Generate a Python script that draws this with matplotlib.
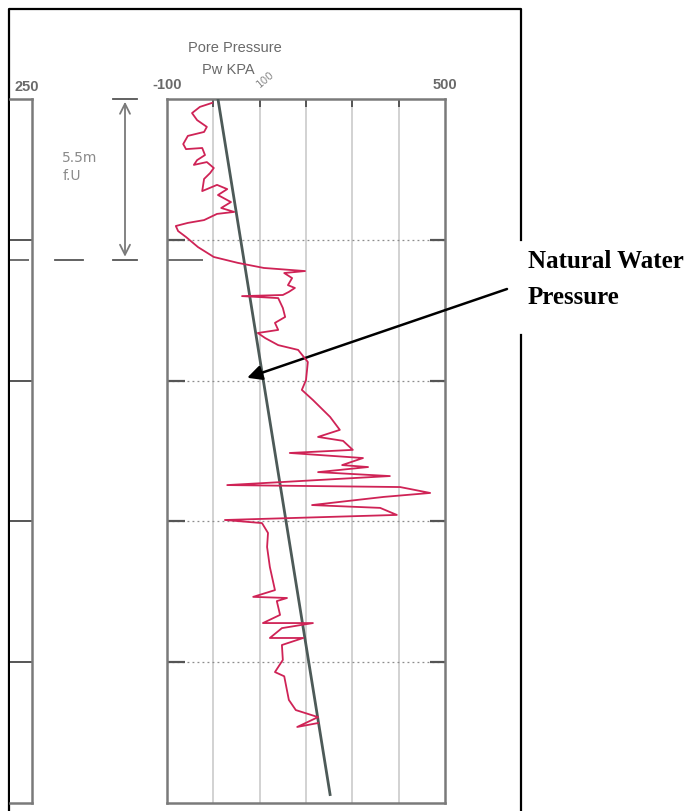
import numpy as np
import matplotlib.pyplot as plt
from matplotlib.transforms import blended_transform_factory

# pore pressure trace (kPa, depth m)
pw_kpa = [-3, -29, -46, -35, -14, -20, -55, -65, -59, -24, -18, -35, -42, -14, 1, -7,
          -20, -24, 8, 30, 10, 38, 17, 45, 8, -20, -55, -81, -76, -59, -33, 1, 53,
          109, 198, 153, 170, 161, 176, 163, 150, 62, 140, 150, 155, 133, 140, 96,
          112, 140, 183, 204, 200, 191, 215, 252, 273, 226, 280, 301, 165, 323, 278,
          334, 226, 381, 30, 403, 468, 368, 213, 360, 396, 25, 105, 118, 116, 122,
          133, 86, 159, 137, 144, 107, 215, 148, 122, 194, 148, 150, 133, 153, 163,
          178, 226, 181, 226]
depth_m = [0.14, 0.28, 0.50, 0.75, 0.99, 1.17, 1.31, 1.60, 1.78, 1.74, 1.99, 2.17, 2.34,
           2.24, 2.45, 2.63, 2.84, 3.27, 3.05, 3.20, 3.41, 3.66, 3.87, 4.01, 4.08, 4.30,
           4.40, 4.51, 4.69, 4.90, 5.26, 5.61, 5.82, 6.00, 6.11, 6.18, 6.36, 6.61, 6.71,
           6.85, 6.96, 7.00, 7.07, 7.42, 7.74, 7.95, 8.20, 8.31, 8.49, 8.74, 8.91, 9.34,
           9.98, 10.33, 10.69, 11.29, 11.75, 12.00, 12.14, 12.46, 12.57, 12.75, 13.00,
           13.07, 13.25, 13.39, 13.71, 13.78, 13.99, 14.13, 14.42, 14.52, 14.77, 14.95,
           15.06, 15.41, 15.91, 16.62, 17.44, 17.68, 17.72, 17.83, 18.32, 18.61, 18.61,
           18.79, 19.14, 19.14, 19.39, 19.92, 20.35, 20.50, 21.34, 21.70, 21.95, 22.30,
           22.16]

# natural (hydrostatic) water pressure line
hydro_kpa = [10, 252]
hydro_depth = [0, 24.7]

x_ticks = [-100, 500]
grid_x = [0, 100, 200, 300, 400]
grid_depth = [5, 10, 15, 20]
gwl_depth = 5.7

W, H = 698, 811
fig = plt.figure(figsize=(W / 100, H / 100), dpi=100)
fig.patch.set_facecolor('white')

grey = '#7a7a7a'
dark = '#555555'

# main pore pressure panel
ax = fig.add_axes([167 / W, 1 - 803 / H, 278 / W, 704 / H])
ax.set_xlim(-100, 500)
ax.set_ylim(25, 0)
for s in ax.spines.values():
    s.set_color(grey)
    s.set_linewidth(1.8)
for gx in grid_x:
    ax.axvline(gx, color='#d2d2d2', lw=1.4, zorder=0)
    ax.vlines(gx, 0, 0.3, color=dark, lw=1.4)
for gd in grid_depth:
    ax.axhline(gd, color='#8c8c8c', lw=0.9, ls=(0, (1.5, 2.5)), zorder=0)
    ax.hlines(gd, -100, -62, color=dark, lw=1.6)
    ax.hlines(gd, 468, 500, color=dark, lw=1.6)
ax.hlines(gwl_depth, -100, -22, color=dark, lw=1.2)

ax.plot(hydro_kpa, hydro_depth, color='#4d5a58', lw=2.0, zorder=3)
ax.plot(pw_kpa, depth_m, color='#cf2356', lw=1.3, zorder=4)

ax.xaxis.tick_top()
ax.set_xticks(x_ticks)
ax.set_xticklabels([str(t) for t in x_ticks], fontsize=10.5, color='#6a6a6a',
                   fontweight='bold', family='Liberation Sans')
ax.tick_params(axis='x', length=0, pad=5)
ax.set_yticks([])
ax.text(112, -0.35, '100', rotation=40, fontsize=7.5, color='#8a8a8a',
        ha='center', va='bottom')

# neighbouring panel cut at the left edge
axl = fig.add_axes([10 / W, 1 - 803 / H, 22 / W, 704 / H])
axl.set_xlim(0, 1)
axl.set_ylim(25, 0)
axl.spines['left'].set_visible(False)
for s in ('right', 'top', 'bottom'):
    axl.spines[s].set_color(grey)
    axl.spines[s].set_linewidth(1.8)
for gd in grid_depth:
    axl.hlines(gd, 0, 1, color=dark, lw=1.4)
axl.hlines(gwl_depth, 0, 0.85, color=dark, lw=1.2)
axl.set_xticks([])
axl.set_yticks([])
fig.text(27 / W, 1 - 87 / H, '250', fontsize=10.5, color='#6a6a6a',
         fontweight='bold', ha='center', va='center', family='Liberation Sans')

fig.text(235 / W, 1 - 48 / H, 'Pore Pressure', fontsize=10.5, color='#6a6a6a',
         ha='center', va='center', family='Liberation Sans')
fig.text(228 / W, 1 - 70 / H, 'Pw KPA', fontsize=10.5, color='#6a6a6a',
         ha='center', va='center', family='Liberation Sans')

# 5.5 m dimension mark
tr = blended_transform_factory(fig.transFigure, ax.transData)
ax.annotate('', xy=(125 / W, 0), xytext=(125 / W, gwl_depth), xycoords=tr,
            textcoords=tr, annotation_clip=False,
            arrowprops=dict(arrowstyle='<->', color=grey, lw=1.3, mutation_scale=18))
ax.plot([113 / W, 137 / W], [0, 0], transform=tr, color=dark, lw=1.3, clip_on=False)
ax.plot([113 / W, 137 / W], [gwl_depth, gwl_depth], transform=tr, color=dark, lw=1.3,
        clip_on=False)
ax.plot([55 / W, 83 / W], [gwl_depth, gwl_depth], transform=tr, color=dark, lw=1.3,
        clip_on=False)
ax.text(80 / W, 2.1, '5.5m', transform=tr, fontsize=10, color='#8a8a8a',
        ha='center', va='center')
ax.text(72 / W, 2.75, 'f.U', transform=tr, fontsize=10, color='#8a8a8a',
        ha='center', va='center')

# outer frame of the scanned figure
frame = fig.add_axes([0, 0, 1, 1], zorder=-1)
frame.set_xlim(0, W)
frame.set_ylim(H, 0)
frame.axis('off')
frame.plot([9, 9, 521, 521], [H, 9, 9, 240], color='black', lw=1.6)
frame.plot([521, 521], [335, H], color='black', lw=1.6)

# callout
ax.annotate('', xy=(73, 9.9), xycoords='data', xytext=(507 / W, 1 - 289 / H),
            textcoords='figure fraction', annotation_clip=False,
            arrowprops=dict(arrowstyle='-|>', color='black', lw=1.8, mutation_scale=22,
                            shrinkA=0, shrinkB=0))
fig.text(528 / W, 1 - 262 / H, 'Natural Water', fontsize=18, fontweight='bold',
         family='Liberation Serif', ha='left', va='center')
fig.text(528 / W, 1 - 298 / H, 'Pressure', fontsize=18, fontweight='bold',
         family='Liberation Serif', ha='left', va='center')

fig.savefig('out.png', dpi=100)
